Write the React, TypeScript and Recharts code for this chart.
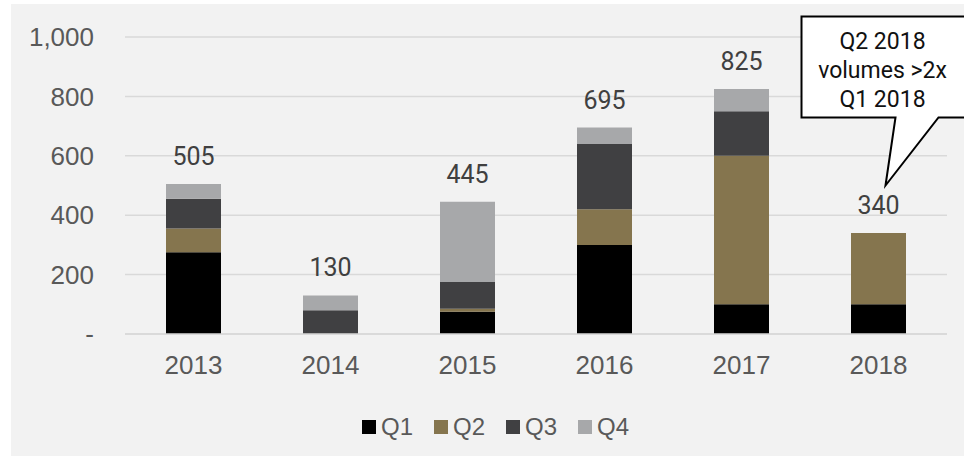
import { BarChart, Bar, XAxis, YAxis, CartesianGrid, Legend, ReferenceDot } from "recharts";

// quarterly volumes
const years = ["2013", "2014", "2015", "2016", "2017", "2018"];
const q1 = [275, 0, 75, 300, 100, 100];
const q2 = [80, 0, 10, 120, 500, 240];
const q3 = [100, 80, 90, 220, 150, 0];
const q4 = [50, 50, 270, 55, 75, 0];
const totals = [505, 130, 445, 695, 825, 340];

const yTicks = [0, 200, 400, 600, 800, 1000];
const seriesKeys = ["Q1", "Q2", "Q3", "Q4"];
const seriesColors = ["#000000", "#85754E", "#404042", "#A7A8AA"];

const calloutLines = ["Q2 2018", "volumes >2x", "Q1 2018"];
const calloutYear = "2018";
const calloutValue = 500;

const data = years.map((year, i) => ({
    year,
    Q1: q1[i],
    Q2: q2[i],
    Q3: q3[i],
    Q4: q4[i],
    total: totals[i],
}));

const tickFont = "'Liberation Sans', Arial, sans-serif";
const labelFont = "Roboto, 'Liberation Sans', sans-serif";

// total above each stack, placed at (year, total) through the scales
function TotalLabel(props: any) {
    const { cx, cy, label } = props;
    if (cx == null || cy == null) return null;
    return (
        <text x={cx} y={cy - 19} textAnchor="middle" fill="#404040" fontSize={25} fontFamily={labelFont}>
            {label}
        </text>
    );
}

// speech bubble, tip anchored at (cx, cy) from the chart's own scales
function Callout(props: any) {
    const { cx, cy } = props;
    if (cx == null || cy == null) return null;
    const left = cx - 77;
    const right = cx + 92;
    const top = cy - 169;
    const bottom = cy - 68;
    const d = `M${left},${top} H${right} V${bottom} H${cx + 60} L${cx + 7},${cy} L${cx + 17},${bottom} H${left} Z`;
    return (
        <g>
            <path d={d} fill="#ffffff" stroke="#000000" strokeWidth={2} strokeLinejoin="miter" />
            {calloutLines.map((line, i) => (
                <text
                    key={line}
                    x={cx + 4}
                    y={top + 32 + i * 29}
                    textAnchor="middle"
                    fontFamily={labelFont}
                    fontSize={23}
                    fill="#111111"
                >
                    {line}
                </text>
            ))}
        </g>
    );
}

function renderLegend() {
    return (
        <div
            style={{
                display: "flex",
                justifyContent: "center",
                alignItems: "center",
                height: 30,
                paddingLeft: 16,
                fontFamily: tickFont,
                fontSize: 24,
                color: "#595959",
            }}
        >
            {seriesKeys.map((k, i) => (
                <div key={k} style={{ display: "flex", alignItems: "center", marginRight: i < seriesKeys.length - 1 ? 21 : 0 }}>
                    <span style={{ display: "inline-block", width: 14, height: 14, background: seriesColors[i], marginRight: 5 }} />
                    {k}
                </div>
            ))}
        </div>
    );
}

export default function App() {
    return (
        <div style={{ position: "absolute", left: 0, top: 0, width: 964, height: 456, background: "#ffffff", overflow: "hidden" }}>
            <div style={{ position: "absolute", left: 11, top: 4, width: 953, height: 452, background: "#F2F2F2" }}>
                <BarChart width={953} height={452} data={data} margin={{ top: 33, right: 17, left: 0, bottom: 14 }}>
                    <CartesianGrid vertical={false} stroke="#D9D9D9" strokeWidth={1.5} />
                    <XAxis
                        dataKey="year"
                        height={78}
                        tickLine={false}
                        tickSize={0}
                        tickMargin={22}
                        axisLine={{ stroke: "#D9D9D9", strokeWidth: 1.5 }}
                        tick={{ fill: "#595959", fontSize: 26, fontFamily: tickFont }}
                    />
                    <YAxis
                        width={114}
                        domain={[0, 1000]}
                        ticks={yTicks}
                        interval={0}
                        axisLine={false}
                        tickLine={false}
                        tickSize={0}
                        tickMargin={31}
                        tickFormatter={(v: number) => (v === 0 ? "-" : v.toLocaleString("en-US"))}
                        tick={{ fill: "#595959", fontSize: 26, fontFamily: tickFont }}
                    />
                    <Legend verticalAlign="bottom" content={renderLegend} wrapperStyle={{ left: 0, width: 953, height: 30 }} />
                    {seriesKeys.map((k, i) => (
                        <Bar key={k} dataKey={k} stackId="a" fill={seriesColors[i]} barSize={55} isAnimationActive={false} />
                    ))}
                    {years.map((year, i) => (
                        <ReferenceDot
                            key={`total-${year}`}
                            x={year}
                            y={totals[i]}
                            r={0}
                            ifOverflow="visible"
                            shape={(p: any) => <TotalLabel {...p} label={totals[i]} />}
                        />
                    ))}
                    <ReferenceDot x={calloutYear} y={calloutValue} r={0} shape={Callout} ifOverflow="visible" />
                </BarChart>
            </div>
        </div>
    );
}
